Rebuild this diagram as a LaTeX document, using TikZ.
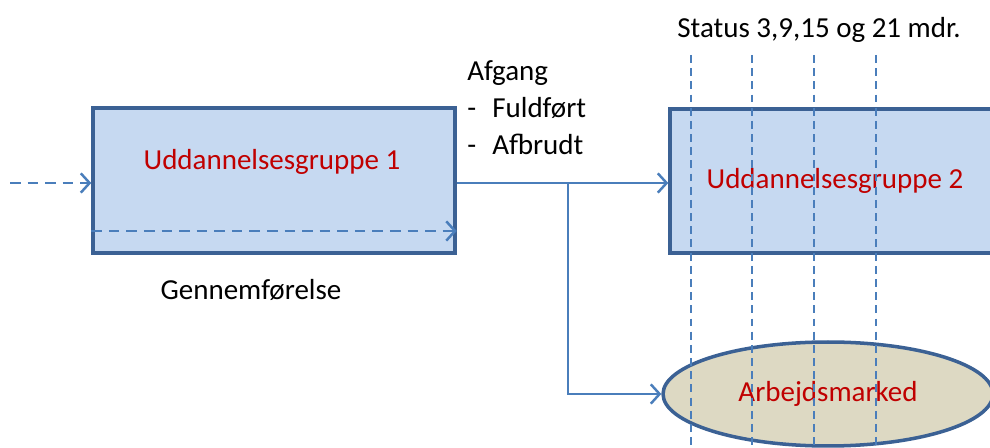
\documentclass[tikz,border=0pt]{standalone}
\usepackage{fontspec}
\setmainfont{Carlito}
\usepackage{xcolor}
\usetikzlibrary{shapes.geometric, arrows.meta}
\definecolor{gruppefill}{HTML}{C6D9F1}
\definecolor{randblaa}{HTML}{3B6194}
\definecolor{pilblaa}{HTML}{4A7EBB}
\definecolor{markedfill}{HTML}{DDD9C3}
\definecolor{tekstrod}{HTML}{C00000}

\begin{document}
\begin{tikzpicture}[x=0.02cm, y=-0.02cm, font=\fontsize{16.5}{21}\selectfont,
    gruppe/.style={draw=randblaa, line width=2pt, fill=gruppefill, text=tekstrod, inner sep=0pt},
    marked/.style={ellipse, draw=randblaa, line width=2pt, fill=markedfill, text=tekstrod, inner sep=0pt,
      minimum width=6.6cm, minimum height=2.08cm},
    pil/.style={draw=pilblaa, line width=1.4pt, -{Straight Barb[length=5pt, width=11pt]}},
    stiplet/.style={pil, dashed, dash pattern=on 6pt off 4pt},
    statuslinje/.style={draw=pilblaa, line width=0.8pt, dash pattern=on 4.5pt off 3pt}]
  \useasboundingbox (0,0) rectangle (990,448);
  \clip (0,0) rectangle (990,448);

  % boxes
  \node[gruppe, minimum width=7.24cm, minimum height=2.9cm] (ug1) at (274,180.5) {};
  \node[text=tekstrod] (ug1txt) at (272,162) {Uddannelsesgruppe 1};
  \node[gruppe, minimum width=6.6cm, minimum height=2.88cm] (ug2) at (835,181) {Uddannelsesgruppe 2};
  \node[marked] (arb) at (828,394) {Arbejdsmarked};

  % labels
  \node (status) at (819,30) {Status 3,9,15 og 21 mdr.};
  \node (gennem) at (251,290) {Gennemførelse};
  \node[anchor=north west, align=left, inner sep=0pt] (afgang) at (467,60)
    {Afgang\\\makebox[0.5cm][l]{-}Fuldført\\\makebox[0.5cm][l]{-}Afbrudt};

  % arrows
  \coordinate (ind) at (10,183);
  \coordinate (split) at (568,183);
  \draw[stiplet] (ind) -- (ind -| ug1.west);
  \draw[stiplet] (ug1.west |- 0,231) -- (ug1.east |- 0,231);
  \draw[pil] (ug1.east |- split) -- (ug2.west |- split);
  \draw[pil] (split) |- (arb.west);

  % status lines
  \foreach \x in {691,752,814,876} \draw[statuslinje] (\x,55) -- (\x,448);
\end{tikzpicture}
\end{document}
